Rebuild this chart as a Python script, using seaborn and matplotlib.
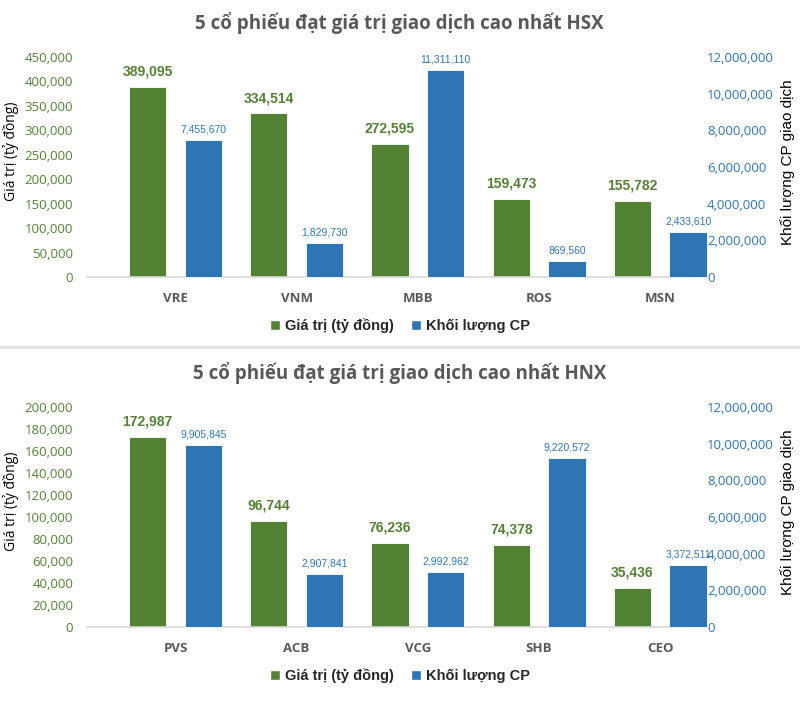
import pandas as pd
import seaborn as sns
import matplotlib.pyplot as plt
from matplotlib.patches import Patch
from matplotlib.lines import Line2D
from matplotlib.ticker import FuncFormatter, MultipleLocator

# data
hsx_ma = ['VRE', 'VNM', 'MBB', 'ROS', 'MSN']
hsx_gia_tri = [389095, 334514, 272595, 159473, 155782]
hsx_khoi_luong = [7455670, 1829730, 11311110, 869560, 2433610]

hnx_ma = ['PVS', 'ACB', 'VCG', 'SHB', 'CEO']
hnx_gia_tri = [172987, 96744, 76236, 74378, 35436]
hnx_khoi_luong = [9905845, 2907841, 2992962, 9220572, 3372511]

GREEN = '#548235'
BLUE = '#2E75B6'
LBL_GT = 'Giá trị (tỷ đồng)'
LBL_KL = 'Khối lượng CP'

sns.set_style('white')
plt.rcParams['font.family'] = ['Open Sans', 'DejaVu Sans']
NARROW = ['Liberation Sans Narrow', 'Liberation Sans', 'DejaVu Sans']
ARIAL = ['Liberation Sans', 'DejaVu Sans']

fmt = FuncFormatter(lambda v, p: f'{v:,.0f}')


def draw_chart(fig, rect, title, ma, gia_tri, khoi_luong, left_max, left_step):
    ax = fig.add_axes(rect)
    ax2 = ax.twinx()
    df_gt = pd.DataFrame({'ma': ma, 'val': gia_tri, 'loai': LBL_GT})
    df_kl = pd.DataFrame({'ma': ma, 'val': khoi_luong, 'loai': LBL_KL})
    pal = {LBL_GT: GREEN, LBL_KL: BLUE}
    sns.barplot(data=df_gt, x='ma', y='val', hue='loai', hue_order=[LBL_GT, LBL_KL],
                order=ma, palette=pal, width=0.92, gap=0.33, dodge=True, ax=ax,
                legend=False, edgecolor='white', linewidth=0.6, saturation=1)
    sns.barplot(data=df_kl, x='ma', y='val', hue='loai', hue_order=[LBL_GT, LBL_KL],
                order=ma, palette=pal, width=0.92, gap=0.33, dodge=True, ax=ax2,
                legend=False, edgecolor='white', linewidth=0.6, saturation=1)

    # excel-style offset: the plot area sits a bit left of the categories
    ax.set_xlim(-0.73, len(ma) - 0.73)
    for a in (ax, ax2):
        for p in a.patches:
            p.set_clip_on(False)

    for c in ax.containers:
        ax.bar_label(c, labels=[f'{v:,.0f}' for v in c.datavalues], padding=6,
                     color=GREEN, fontsize=10, fontweight='bold', family=NARROW)
    for c in ax2.containers:
        ax2.bar_label(c, labels=[f'{v:,.0f}' for v in c.datavalues], padding=4,
                      color=BLUE, fontsize=7.5, family=NARROW)

    ax.set_ylim(0, left_max)
    ax.yaxis.set_major_locator(MultipleLocator(left_step))
    ax.yaxis.set_major_formatter(fmt)
    ax2.set_ylim(0, 12000000)
    ax2.yaxis.set_major_locator(MultipleLocator(2000000))
    ax2.yaxis.set_major_formatter(fmt)

    for a in (ax, ax2):
        for s in a.spines.values():
            s.set_visible(False)
        a.tick_params(length=0)
    ax.spines['bottom'].set_visible(True)
    ax.spines['bottom'].set_color('#d9d9d9')
    ax.spines['bottom'].set_linewidth(1.2)

    ax.tick_params(axis='y', labelcolor=GREEN, labelsize=9.5, pad=10)
    ax2.tick_params(axis='y', labelcolor=BLUE, labelsize=9.5, pad=10)
    ax.tick_params(axis='x', pad=11)
    for t in ax.get_xticklabels():
        t.set_fontweight('bold')
        t.set_color('#595959')
        t.set_fontsize(9.5)

    ax.set_xlabel('')
    ax.set_ylabel('Giá trị (tỷ đồng)', fontsize=10, color='black')
    ax.yaxis.set_label_coords(-0.112, 0.57)
    ax2.set_ylabel('Khối lượng CP giao dịch', fontsize=11, color='black', family=ARIAL)
    ax2.yaxis.set_label_coords(1.143, 0.52)

    ax.set_title(title, x=0.516, pad=20, fontsize=13.5, fontweight='bold', color='#595959')
    return ax


fig = plt.figure(figsize=(8, 7.18), dpi=100)
fig.patch.set_facecolor('white')

draw_chart(fig, [0.10875, 0.6142, 0.7575, 0.3064],
           '5 cổ phiếu đạt giá trị giao dịch cao nhất HSX',
           hsx_ma, hsx_gia_tri, hsx_khoi_luong, 450000, 50000)
draw_chart(fig, [0.10875, 0.1267, 0.7575, 0.3064],
           '5 cổ phiếu đạt giá trị giao dịch cao nhất HNX',
           hnx_ma, hnx_gia_tri, hnx_khoi_luong, 200000, 20000)

handles = [Patch(facecolor=GREEN, label=LBL_GT), Patch(facecolor=BLUE, label=LBL_KL)]
for y in (1 - 326 / 718, 1 - 676 / 718):
    fig.legend(handles=handles, loc='center', bbox_to_anchor=(0.5, y), ncol=2,
               frameon=False, handlelength=0.7, handleheight=0.7, handletextpad=0.3,
               columnspacing=1.2, prop={'family': ARIAL, 'weight': 'bold', 'size': 10.5})

fig.add_artist(Line2D([0, 1], [1 - 347 / 718, 1 - 347 / 718], transform=fig.transFigure,
                      color='#e3e3e3', lw=2.5))

fig.savefig('out.png', dpi=100)
